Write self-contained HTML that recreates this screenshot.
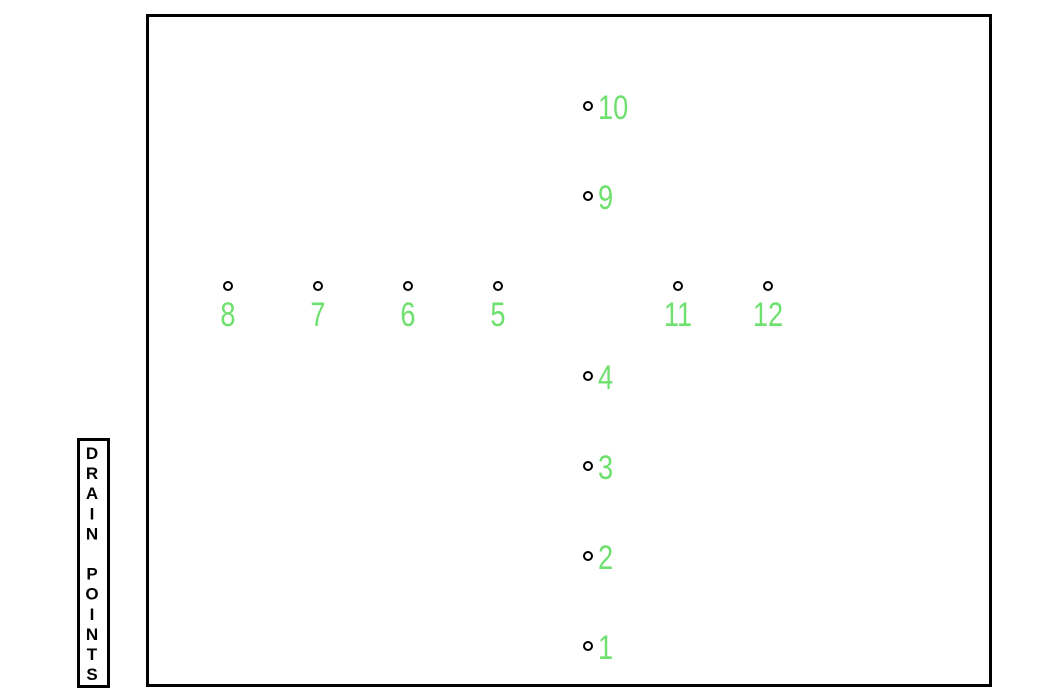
<!DOCTYPE html>
<html><head><meta charset="utf-8"><style>
html,body{margin:0;padding:0;background:#fff;}
svg{display:block}
.lbl{font-family:"Liberation Sans Narrow","Liberation Sans",sans-serif;font-size:34px;fill:#6ee06e;}
.side{font-family:"Liberation Sans",sans-serif;font-weight:bold;font-size:17px;fill:#000;}
</style></head><body>
<svg width="1050" height="699" viewBox="0 0 1050 699">
<rect x="147.5" y="15.5" width="843" height="670" fill="none" stroke="#000" stroke-width="3"/>
<rect x="78.5" y="439.5" width="30" height="247" fill="none" stroke="#000" stroke-width="3"/>
<g id="side"></g>
<g id="pts"></g>
</svg>
<script>
const ids=["1","2","3","4","5","6","7","8","9","10","11","12"];
const xs=[588,588,588,588,498,408,318,228,588,588,678,768];
const ys=[646,556,466,376,286,286,286,286,196,106,286,286];
const below=[0,0,0,0,1,1,1,1,0,0,1,1];
const NS="http://www.w3.org/2000/svg";
const g=document.getElementById('pts');
for(let i=0;i<ids.length;i++){
  const c=document.createElementNS(NS,'circle');
  c.setAttribute('cx',xs[i]);c.setAttribute('cy',ys[i]);c.setAttribute('r',4);
  c.setAttribute('fill','none');c.setAttribute('stroke','#000');c.setAttribute('stroke-width','2');
  
  
  g.appendChild(c);
  const t=document.createElementNS(NS,'text');
  t.setAttribute('class','lbl');
  if(below[i]){
    t.setAttribute('text-anchor','middle');
    t.setAttribute('transform','translate('+xs[i]+','+(ys[i]+40)+') scale(0.8,1)');
  }else{
    t.setAttribute('transform','translate('+(xs[i]+10)+','+(ys[i]+13)+') scale(0.8,1)');
  }
  t.textContent=ids[i];
  
  
  g.appendChild(t);
}
const letters="DRAIN POINTS".split("");
const sg=document.getElementById('side');
let y=459;
letters.forEach(ch=>{
  if(ch!==" "){
    const t=document.createElementNS(NS,'text');
    t.setAttribute('class','side');t.setAttribute('x',92);t.setAttribute('y',y);
    t.setAttribute('text-anchor','middle');t.textContent=ch;
    
    
    sg.appendChild(t);
  }
  y+=20.1;
});
</script>
</body></html>
